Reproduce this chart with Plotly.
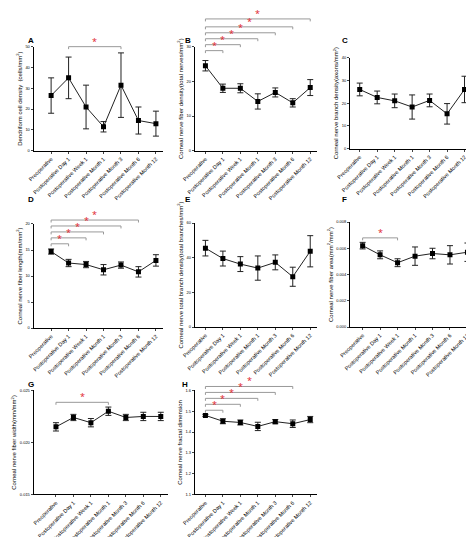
import plotly.graph_objects as go

W, H = 474, 537
categories = ["Preoperative", "Postoperative Day 1", "Postoperative Week 1", "Postoperative Month 1",
              "Postoperative Month 3", "Postoperative Month 6", "Postoperative Month 12"]

a_vals = [26.5, 35, 21, 11.5, 31.5, 14.5, 13]
a_err = [8.5, 10, 10.5, 2.5, 15.5, 6.5, 6]
b_vals = [24.5, 18, 18, 14.2, 16.8, 13.8, 18.2]
b_err = [1.5, 1.2, 1.3, 2.2, 1.3, 1.2, 2.3]
c_vals = [26, 22.5, 21, 18.3, 21.2, 15.3, 26]
c_err = [2.8, 2.8, 3, 5.3, 2.8, 4.5, 5.8]
d_vals = [14.7, 12.5, 12.2, 11.2, 12.1, 10.8, 13]
d_err = [0.5, 0.7, 0.6, 1.0, 0.6, 1.0, 1.1]
e_vals = [45.5, 39.5, 36.3, 34, 37.3, 29, 43.7]
e_err = [4.5, 4.3, 4.3, 7, 4.3, 5.5, 9]
f_vals = [0.0062, 0.0055, 0.0049, 0.0054, 0.0056, 0.0055, 0.0057]
f_err = [0.00025, 0.0003, 0.0003, 0.0007, 0.0004, 0.0007, 0.0007]
g_vals = [0.0215, 0.0224, 0.0219, 0.0230, 0.0224, 0.0225, 0.0225]
g_err = [0.0004, 0.0003, 0.0004, 0.0004, 0.0003, 0.0004, 0.0004]
h_vals = [1.48, 1.452, 1.446, 1.427, 1.45, 1.44, 1.46]
h_err = [0.005, 0.012, 0.012, 0.02, 0.01, 0.018, 0.015]

# brackets: (from, to, y pixel)
a_br = [(1, 4, 36)]
b_br = [(0, 1, 40), (0, 2, 34), (0, 3, 28), (0, 4, 22), (0, 5, 16), (0, 6, 8)]
d_br = [(0, 1, 235), (0, 2, 229), (0, 3, 223), (0, 4, 217), (0, 5, 211)]
f_br = [(0, 2, 229)]
g_br = [(0, 3, 395)]
h_br = [(0, 1, 403), (0, 2, 397), (0, 3, 391), (0, 4, 385), (0, 5, 379)]

panels = [
    ("A", a_vals, a_err, 0, 50, 10, "", "Dendriform cell density  (cells/mm<sup>2</sup>)", 12, 30, 36, 141, (4, 30), a_br),
    ("B", b_vals, b_err, 0, 30, 10, "", "Corneal nerve fiber density(total nerves/mm<sup>2</sup>)", 178, 189, 36, 141, (166, 30), b_br),
    ("C", c_vals, c_err, 0, 40, 10, "", "Corneal nerve branch density(axons/mm<sup>2</sup>)", 338, 348, 47, 139, (328, 30), []),
    ("D", d_vals, d_err, 0, 20, 5, "", "Corneal nerve fiber length(mm/mm<sup>2</sup>)", 12, 30, 215, 320, (4, 190), d_br),
    ("E", e_vals, e_err, 0, 60, 20, "", "Corneal nerve total branch density(total branches/mm<sup>2</sup>)", 178, 189, 214, 319, (166, 190), []),
    ("F", f_vals, f_err, 0, 0.008, 0.002, ".3f", "Corneal nerve fiber area(mm<sup>2</sup>/mm<sup>2</sup>)", 338, 351, 213, 319, (328, 190), f_br),
    ("G", g_vals, g_err, 0.015, 0.025, 0.005, ".3f", "Corneal nerve fiber width(mm/mm<sup>2</sup>)", 12, 35, 383, 488, (4, 377), g_br),
    ("H", h_vals, h_err, 1.1, 1.6, 0.1, ".1f", "Corneal nerve fractal dimension", 178, 189, 383, 488, (163, 377), h_br),
]

fig = go.Figure()
sp = 18.0
shapes, annos = [], []
FONT = "Arial, Liberation Sans"
for i, (L, vals, err, y0, y1, dt, fmt, title, ax_px, p0, top, zero, lxy, brs) in enumerate(panels, start=1):
    r0 = -(p0 - ax_px) / sp
    r1 = 6.4
    right_px = p0 + r1 * sp
    xn = "x" if i == 1 else f"x{i}"
    yn = "y" if i == 1 else f"y{i}"
    fig.add_trace(go.Scatter(
        x=list(range(7)), y=vals, xaxis=xn, yaxis=yn, mode="lines+markers",
        line=dict(color="#222", width=1), marker=dict(symbol="square", size=5, color="black"),
        error_y=dict(type="data", array=err, color="#222", thickness=1, width=3), showlegend=False))
    sfx = "" if i == 1 else str(i)
    fig.layout["xaxis" + sfx] = dict(
        domain=[ax_px / W, right_px / W], range=[r0, r1], anchor=yn,
        tickvals=list(range(7)), ticktext=categories, tickangle=-45,
        tickfont=dict(size=5.5, family=FONT, color="black"),
        showline=True, linecolor="black", linewidth=1, ticks="outside", ticklen=2,
        showgrid=False, zeroline=False)
    fig.layout["yaxis" + sfx] = dict(
        domain=[1 - zero / H, 1 - top / H], range=[y0, y1], anchor=xn, dtick=dt, tick0=y0,
        tickformat=fmt, tickfont=dict(size=4, family=FONT, color="black"),
        showline=True, linecolor="black", linewidth=1, ticks="outside", ticklen=2,
        showgrid=False, zeroline=False,
        title=dict(text=title, font=dict(size=6, family=FONT, color="black"), standoff=2))
    annos.append(dict(text=f"<b>{L}</b>", x=lxy[0] / W, y=1 - lxy[1] / H, xref="paper", yref="paper",
                      showarrow=False, xanchor="left", yanchor="middle",
                      font=dict(size=8, family=FONT, color="black")))
    for (a, b, ypx) in brs:
        yp = 1 - ypx / H
        tk = 2.5 / H
        for seg in [(a, yp, b, yp), (a, yp, a, yp - tk), (b, yp, b, yp - tk)]:
            shapes.append(dict(type="line", xref=xn, yref="paper", x0=seg[0], y0=seg[1], x1=seg[2], y1=seg[3],
                               line=dict(color="#999", width=1)))
        annos.append(dict(text="*", x=(a + b) / 2, y=yp, xref=xn, yref="paper", showarrow=False,
                          yanchor="bottom", yshift=-3, font=dict(size=9, color="#e0201f")))

fig.update_layout(width=W, height=H, margin=dict(l=0, r=0, t=0, b=0), plot_bgcolor="white",
                  paper_bgcolor="white", shapes=shapes, annotations=annos)
fig.write_html("out.html")
